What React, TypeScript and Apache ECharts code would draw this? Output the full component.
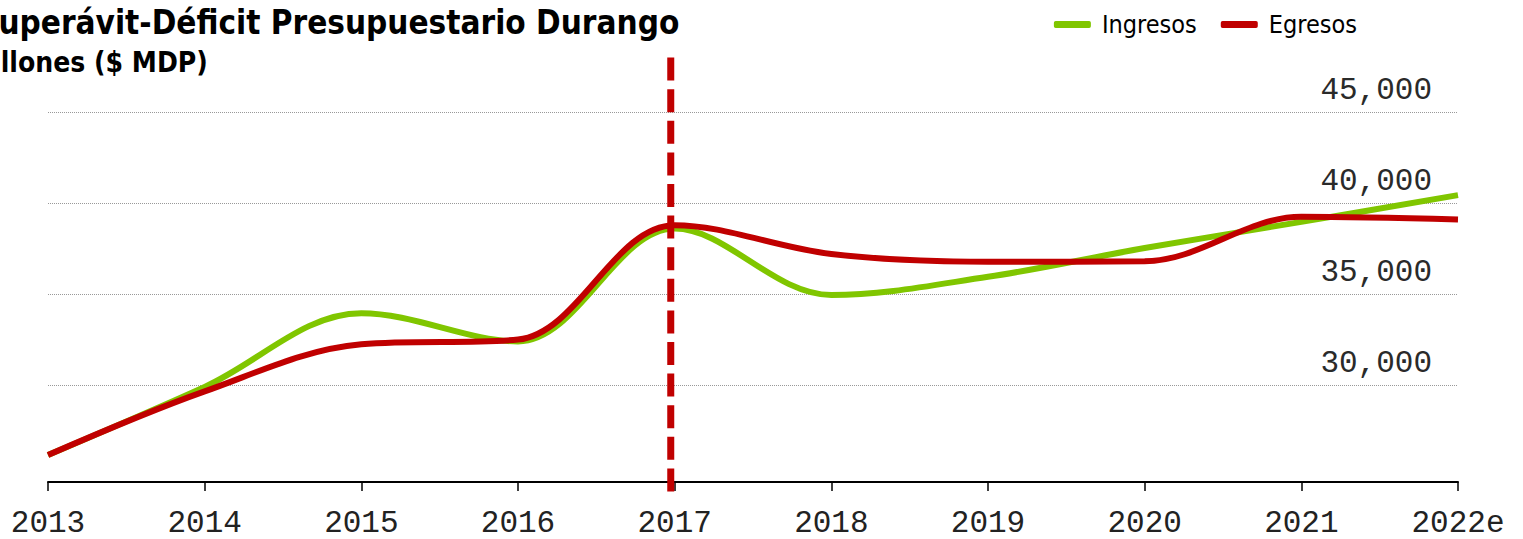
import React, { useEffect, useRef } from "react";
import * as echarts from "echarts";

const years = ["2013", "2014", "2015", "2016", "2017", "2018", "2019", "2020", "2021", "2022e"];
const ingresos = [26150, 29900, 33950, 32400, 38600, 34950, 35950, 37530, 38970, 40440];
const egresos = [26150, 29650, 32240, 32500, 38790, 37200, 36780, 36800, 39250, 39100];
const yTicks = [30000, 35000, 40000, 45000];
const markerX = 2016.975;
const yMin = 24670;
const yMax = 48000;
const markerBottom = 23960;

const title = "Superávit-Déficit Presupuestario Durango";
const subtitle = "Millones ($ MDP)";

const SANS = "'DejaVu Sans Condensed', 'DejaVu Sans', sans-serif";
const MONO = "'Liberation Mono', 'Courier New', monospace";

export default function App() {
  const ref = useRef<HTMLDivElement>(null);
  useEffect(() => {
    document.body.style.margin = "0";
    if (!ref.current) return;
    const chart = echarts.init(ref.current, null, { renderer: "svg" });
    chart.setOption({
      animation: false,
      backgroundColor: "#ffffff",
      title: [
        {
          text: title,
          left: -28,
          top: 1,
          textStyle: { fontFamily: SANS, fontWeight: "bold", fontSize: 33, color: "#000" },
        },
        {
          text: subtitle,
          left: -38,
          top: 43,
          textStyle: { fontFamily: SANS, fontWeight: "bold", fontSize: 28, color: "#000" },
        },
      ],
      legend: {
        data: ["Ingresos", "Egresos"],
        right: 166,
        top: 12,
        padding: 0,
        icon: "roundRect",
        itemWidth: 37,
        itemHeight: 7,
        itemGap: 24,
        textStyle: { fontFamily: SANS, fontSize: 25, color: "#000", padding: [0, 0, 0, 6] },
      },
      grid: { left: 48, right: 65, top: 57.6, bottom: 57, containLabel: false },
      xAxis: [
        {
          type: "category",
          data: years,
          boundaryGap: false,
          axisLine: { show: true, lineStyle: { color: "#000", width: 2 } },
          axisTick: { show: true, length: 9, lineStyle: { color: "#000", width: 1.5 } },
          axisLabel: { margin: 28, fontFamily: MONO, fontSize: 31, lineHeight: 26, color: "#222" },
          splitLine: { show: false },
        },
        {
          type: "value",
          min: 2013,
          max: 2022,
          show: false,
          splitLine: { show: false },
        },
      ],
      yAxis: {
        type: "value",
        position: "right",
        min: yMin,
        max: yMax,
        axisLine: { show: false },
        axisTick: { show: false, customValues: yTicks },
        axisLabel: {
          inside: true,
          customValues: yTicks,
          margin: 26,
          fontFamily: MONO,
          fontSize: 31,
          color: "#2a2a2a",
          verticalAlign: "bottom",
          lineHeight: 30,
          padding: [0, 0, 7, 0],
          formatter: (v: number) => v.toLocaleString("en-US"),
        },
        splitLine: { show: true, lineStyle: { type: "dotted", color: "#999", width: 1 } },
      },
      series: [
        {
          name: "Ingresos",
          type: "line",
          data: ingresos,
          smooth: 0.35,
          symbol: "none",
          lineStyle: { color: "#80C600", width: 6 },
          itemStyle: { color: "#80C600" },
          z: 2,
        },
        {
          name: "Egresos",
          type: "line",
          data: egresos,
          smooth: 0.35,
          symbol: "none",
          lineStyle: { color: "#C00000", width: 6 },
          itemStyle: { color: "#C00000" },
          z: 3,
        },
        {
          name: "marker",
          type: "line",
          xAxisIndex: 1,
          data: [[markerX, yMax], [markerX, markerBottom]],
          symbol: "none",
          clip: false,
          silent: true,
          lineStyle: { color: "#C00000", width: 7, type: [23, 8.6] },
          z: 4,
        },
      ],
    });
    return () => chart.dispose();
  }, []);
  return <div ref={ref} style={{ width: 1523, height: 539 }} />;
}
